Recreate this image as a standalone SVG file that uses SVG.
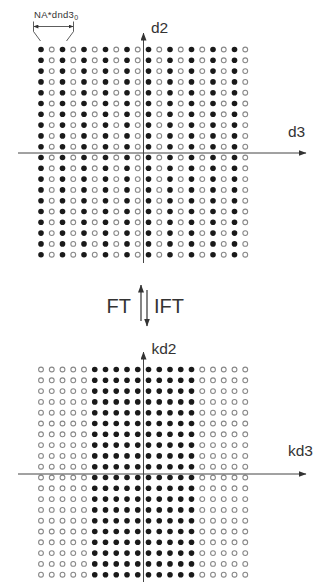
<svg xmlns="http://www.w3.org/2000/svg" xmlns:xlink="http://www.w3.org/1999/xlink" width="325" height="582" viewBox="0 0 325 582">
<style>
.f{fill:#1a1a1a}
.o{fill:#fff;stroke:#888;stroke-width:1.1}
.ax{stroke:#454545;stroke-width:1;fill:none}
.dim{stroke:#333;stroke-width:0.8;fill:none}
.lbl{font-family:"Liberation Sans",Arial,sans-serif;fill:#333}
</style>
<defs>
<marker id="ah" viewBox="0 0 8 6" refX="7.5" refY="3" markerWidth="8" markerHeight="6" markerUnits="userSpaceOnUse" orient="auto">
<path d="M0,0 L8,3 L0,6 Z" fill="#333"/>
</marker>
<marker id="ahs" viewBox="0 0 6 5" refX="5.5" refY="2.5" markerWidth="5" markerHeight="4" markerUnits="userSpaceOnUse" orient="auto-start-reverse">
<path d="M0,0 L6,2.5 L0,5 Z" fill="#333"/>
</marker>
<g id="rowA">
<circle class="f" cx="41" cy="0" r="2.8"/><circle class="o" cx="51.75" cy="0" r="2.4"/>
<circle class="f" cx="62.5" cy="0" r="2.8"/><circle class="o" cx="73.25" cy="0" r="2.4"/>
<circle class="f" cx="84" cy="0" r="2.8"/><circle class="o" cx="94.75" cy="0" r="2.4"/>
<circle class="f" cx="105.5" cy="0" r="2.8"/><circle class="o" cx="116.25" cy="0" r="2.4"/>
<circle class="f" cx="127" cy="0" r="2.8"/><circle class="o" cx="137.75" cy="0" r="2.4"/>
<circle class="f" cx="148.5" cy="0" r="2.8"/><circle class="o" cx="159.25" cy="0" r="2.4"/>
<circle class="f" cx="170" cy="0" r="2.8"/><circle class="o" cx="180.75" cy="0" r="2.4"/>
<circle class="f" cx="191.5" cy="0" r="2.8"/><circle class="o" cx="202.25" cy="0" r="2.4"/>
<circle class="f" cx="213" cy="0" r="2.8"/><circle class="o" cx="223.75" cy="0" r="2.4"/>
<circle class="f" cx="234.5" cy="0" r="2.8"/><circle class="o" cx="245.25" cy="0" r="2.4"/>
</g>
<g id="rowB">
<circle class="o" cx="41" cy="0" r="2.4"/><circle class="o" cx="51.75" cy="0" r="2.4"/>
<circle class="o" cx="62.5" cy="0" r="2.4"/><circle class="o" cx="73.25" cy="0" r="2.4"/>
<circle class="o" cx="84" cy="0" r="2.4"/><circle class="f" cx="94.75" cy="0" r="2.8"/>
<circle class="f" cx="105.5" cy="0" r="2.8"/><circle class="f" cx="116.25" cy="0" r="2.8"/>
<circle class="f" cx="127" cy="0" r="2.8"/><circle class="f" cx="137.75" cy="0" r="2.8"/>
<circle class="f" cx="148.5" cy="0" r="2.8"/><circle class="f" cx="159.25" cy="0" r="2.8"/>
<circle class="f" cx="170" cy="0" r="2.8"/><circle class="f" cx="180.75" cy="0" r="2.8"/>
<circle class="f" cx="191.5" cy="0" r="2.8"/><circle class="o" cx="202.25" cy="0" r="2.4"/>
<circle class="o" cx="213" cy="0" r="2.4"/><circle class="o" cx="223.75" cy="0" r="2.4"/>
<circle class="o" cx="234.5" cy="0" r="2.4"/><circle class="o" cx="245.25" cy="0" r="2.4"/>
</g>
</defs>
<rect width="325" height="582" fill="#fff"/>
<g id="spatial-grid">
<use href="#rowA" y="49.5"/><use href="#rowA" y="60.3"/><use href="#rowA" y="71.1"/><use href="#rowA" y="81.9"/>
<use href="#rowA" y="92.7"/><use href="#rowA" y="103.5"/><use href="#rowA" y="114.3"/><use href="#rowA" y="125.1"/>
<use href="#rowA" y="135.9"/><use href="#rowA" y="146.7"/><use href="#rowA" y="157.5"/><use href="#rowA" y="168.3"/>
<use href="#rowA" y="179.1"/><use href="#rowA" y="189.9"/><use href="#rowA" y="200.7"/><use href="#rowA" y="211.5"/>
<use href="#rowA" y="222.3"/><use href="#rowA" y="233.1"/><use href="#rowA" y="243.9"/><use href="#rowA" y="254.7"/>
</g>
<g id="kspace-grid">
<use href="#rowB" y="369.5"/><use href="#rowB" y="380.3"/><use href="#rowB" y="391.1"/><use href="#rowB" y="401.9"/>
<use href="#rowB" y="412.7"/><use href="#rowB" y="423.5"/><use href="#rowB" y="434.3"/><use href="#rowB" y="445.1"/>
<use href="#rowB" y="455.9"/><use href="#rowB" y="466.7"/><use href="#rowB" y="477.5"/><use href="#rowB" y="488.3"/>
<use href="#rowB" y="499.1"/><use href="#rowB" y="509.9"/><use href="#rowB" y="520.7"/><use href="#rowB" y="531.5"/>
<use href="#rowB" y="542.3"/><use href="#rowB" y="553.1"/><use href="#rowB" y="563.9"/><use href="#rowB" y="574.7"/>
</g>
<g id="connectors">
<line class="ax" x1="143.5" y1="263" x2="143.5" y2="33" marker-end="url(#ah)"/>
<line class="ax" x1="18" y1="153" x2="306" y2="153" marker-end="url(#ah)"/>
<line class="ax" x1="143.5" y1="582" x2="143.5" y2="352" marker-end="url(#ah)"/>
<line class="ax" x1="18" y1="474" x2="306" y2="474" marker-end="url(#ah)"/>
<line x1="141" y1="321" x2="141" y2="285" stroke="#333" stroke-width="1.2" marker-end="url(#ah)"/>
<line x1="147" y1="290" x2="147" y2="326" stroke="#333" stroke-width="1.2" marker-end="url(#ah)"/>
<line class="dim" x1="34" y1="26.5" x2="73" y2="26.5" marker-start="url(#ahs)" marker-end="url(#ahs)"/>
<polyline class="dim" points="33.5,21.5 33.5,31.5 40.5,41"/>
<polyline class="dim" points="73.5,21.5 73.5,31.5 66.5,41"/>
</g>
<g id="labels">
<text class="lbl" x="34" y="17.5" font-size="9.5" letter-spacing="0.3">NA*dnd3<tspan font-size="7" dy="2.5">0</tspan></text>
<text class="lbl" x="151" y="33" font-size="15.5">d2</text>
<text class="lbl" x="288" y="137" font-size="15.5">d3</text>
<text class="lbl" x="106.5" y="313" font-size="20">FT</text>
<text class="lbl" x="154" y="313" font-size="20">IFT</text>
<text class="lbl" x="151.5" y="354" font-size="15.5">kd2</text>
<text class="lbl" x="288" y="456" font-size="15.5">kd3</text>
</g>
</svg>
